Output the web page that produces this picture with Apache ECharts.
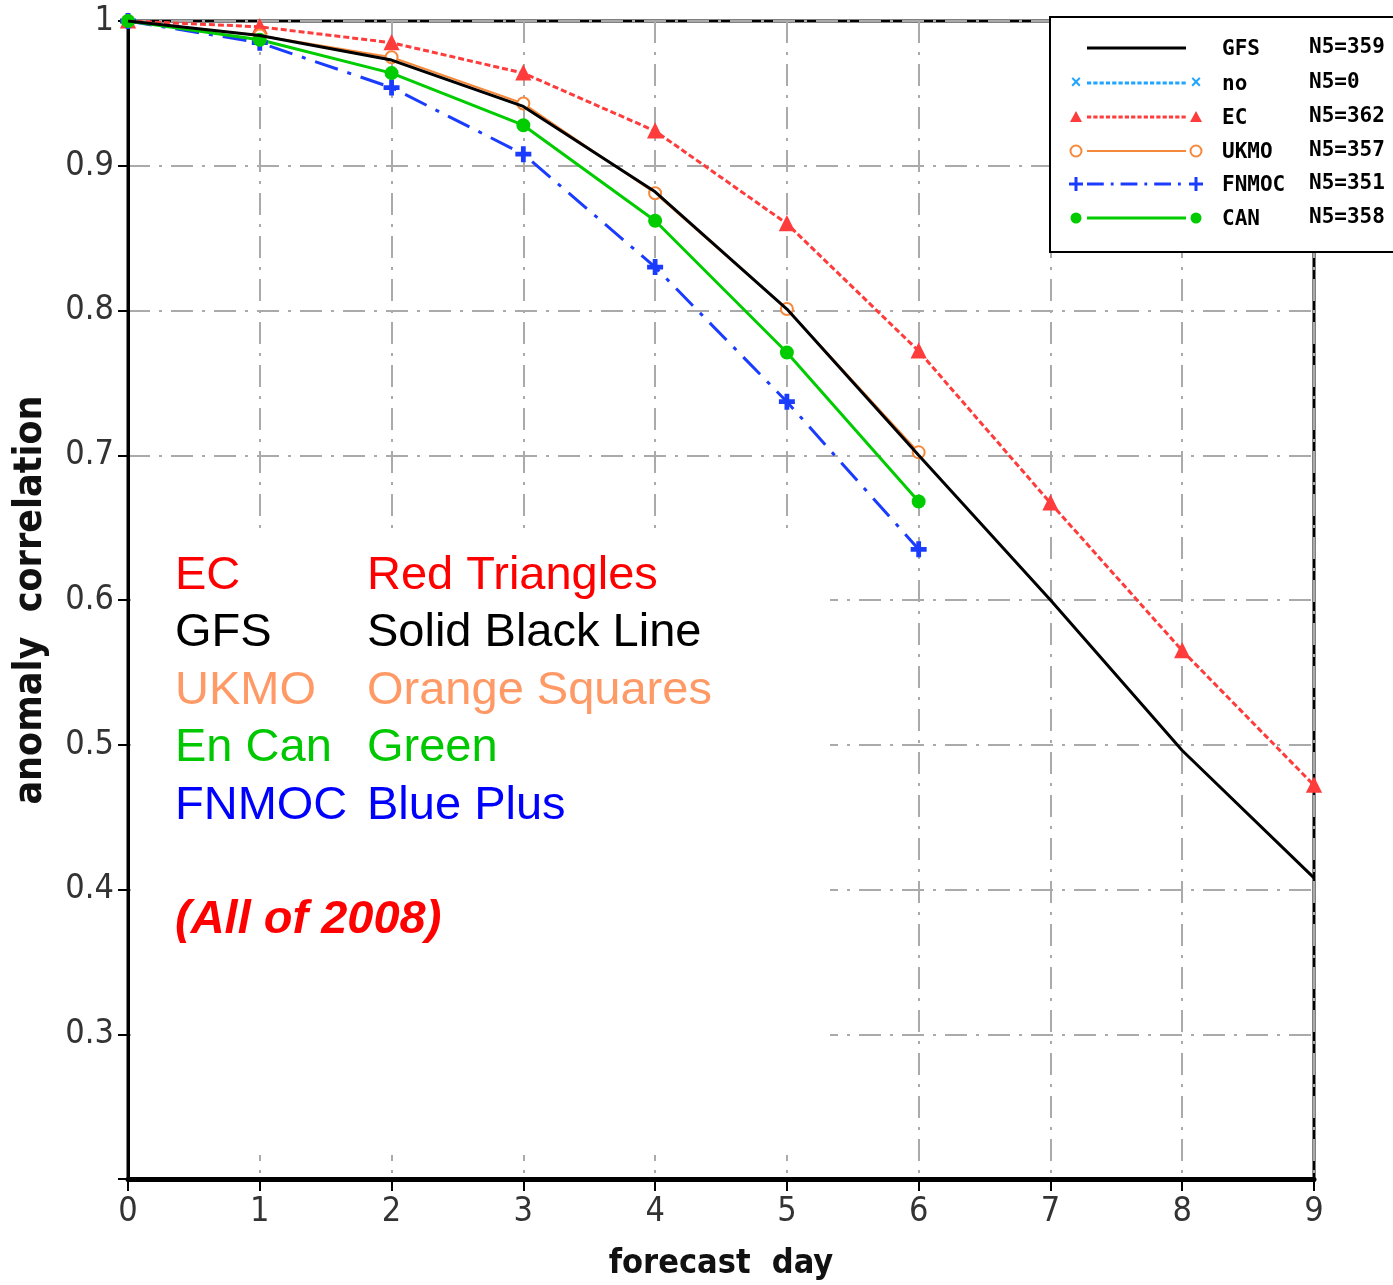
<!DOCTYPE html>
<html>
<head>
<meta charset="utf-8">
<script src="https://cdn.jsdelivr.net/npm/echarts@6/dist/echarts.min.js"></script>
<style>html,body{margin:0;padding:0;background:#fff}#c{width:1393px;height:1285px}</style>
</head>
<body>
<div id="c"></div>
<script>
// ---- data ----
var days = [0, 1, 2, 3, 4, 5, 6, 7, 8, 9];
var gfs   = [1.0, 0.990, 0.973, 0.941, 0.882, 0.801, 0.700, 0.600, 0.496, 0.408];
var noData = [];
var ec    = [1.0, 0.996, 0.985, 0.964, 0.924, 0.860, 0.772, 0.667, 0.565, 0.472];
var ukmo  = [1.0, 0.990, 0.975, 0.943, 0.881, 0.801, 0.702];
var fnmoc = [1.0, 0.985, 0.954, 0.908, 0.830, 0.737, 0.635];
var can   = [1.0, 0.987, 0.964, 0.928, 0.862, 0.771, 0.668];
var yTicks = [0.3, 0.4, 0.5, 0.6, 0.7, 0.8, 0.9, 1];
var legendNames = ['GFS', 'no', 'EC', 'UKMO', 'FNMOC', 'CAN'];
var legendCounts = ['N5=359', 'N5=0', 'N5=362', 'N5=357', 'N5=351', 'N5=358'];
var noteLeft = ['EC', 'GFS', 'UKMO', 'En Can', 'FNMOC'];
var noteRight = ['Red Triangles', 'Solid Black Line', 'Orange Squares', 'Green', 'Blue Plus'];
var noteColors = ['#ff0000', '#000000', '#ff9966', '#00c800', '#0000ff'];
var yearNote = '(All of 2008)';

function pairs(arr) { return arr.map(function (v, i) { return [days[i], v]; }); }

var plusPath = 'path://M4,0 L6,0 L6,4 L10,4 L10,6 L6,6 L6,10 L4,10 L4,6 L0,6 L0,4 L4,4 Z';
var xPath = 'path://M0,1 L1,0 L5,4 L9,0 L10,1 L6,5 L10,9 L9,10 L5,6 L1,10 L0,9 L4,5 Z';

var styles = {
  GFS:   {color: '#000000', type: 'solid', width: 3, symbol: 'none', size: 0},
  no:    {color: '#1fa5ff', type: [6, 3], width: 3, symbol: xPath, size: 10},
  EC:    {color: '#ff3c3c', type: [6, 3], width: 3, symbol: 'triangle', size: 13},
  UKMO:  {color: '#f5883a', type: 'solid', width: 2, symbol: 'emptyCircle', size: 12},
  FNMOC: {color: '#1a3cff', type: [24, 10, 4, 10], width: 3, symbol: plusPath, size: 14},
  CAN:   {color: '#00cc00', type: 'solid', width: 3, symbol: 'circle', size: 12}
};
var seriesData = {GFS: gfs, no: noData, EC: ec, UKMO: ukmo, FNMOC: fnmoc, CAN: can};

var FONT_AX = '"Liberation Sans Narrow", "DejaVu Sans Condensed", "Liberation Sans", sans-serif';
var FONT_LG = '"DejaVu Sans Mono", monospace';
var FONT_TX = '"Liberation Sans", Arial, sans-serif';
var gridDash = [22, 9, 3, 9];

var series = legendNames.map(function (n) {
  var s = styles[n];
  return {
    name: n, type: 'line', data: pairs(seriesData[n]),
    symbol: s.symbol, symbolSize: s.size, showSymbol: s.symbol !== 'none',
    lineStyle: {color: s.color, width: s.width, type: s.type},
    itemStyle: {color: s.color, borderColor: s.color, borderWidth: 2},
    z: n === 'GFS' ? 4 : 3, animation: false, silent: true
  };
});

// ---- legend box (graphic) ----
var lg = [];
lg.push({type: 'rect', shape: {x: 1050, y: 17, width: 400, height: 235},
  style: {fill: '#fff', stroke: '#000', lineWidth: 2}, z: 10});
var rowY = [48, 83, 117, 151, 184, 218];
legendNames.forEach(function (n, i) {
  var s = styles[n], y = rowY[i];
  lg.push({type: 'line', shape: {x1: 1087, y1: y, x2: 1186, y2: y},
    style: {stroke: s.color, lineWidth: s.width, lineDash: Array.isArray(s.type) ? s.type.map(function (d) { return d * 0.7; }) : null}, z: 11});
  if (s.symbol !== 'none') {
    [1076, 1196].forEach(function (cx) {
      var sym;
      if (n === 'EC') sym = {type: 'polygon', shape: {points: [[cx, y - 6], [cx - 6, y + 5], [cx + 6, y + 5]]}, style: {fill: s.color}};
      else if (n === 'UKMO') sym = {type: 'circle', shape: {cx: cx, cy: y, r: 5.5}, style: {fill: '#fff', stroke: s.color, lineWidth: 2}};
      else if (n === 'CAN') sym = {type: 'circle', shape: {cx: cx, cy: y, r: 5.5}, style: {fill: s.color}};
      else if (n === 'FNMOC') sym = {type: 'polygon', shape: {points: [[cx - 1.5, y - 7], [cx + 1.5, y - 7], [cx + 1.5, y - 1.5], [cx + 7, y - 1.5], [cx + 7, y + 1.5], [cx + 1.5, y + 1.5], [cx + 1.5, y + 7], [cx - 1.5, y + 7], [cx - 1.5, y + 1.5], [cx - 7, y + 1.5], [cx - 7, y - 1.5], [cx - 1.5, y - 1.5]]}, style: {fill: s.color}};
      else sym = {type: 'text', style: {text: '×', x: cx, y: y, fill: s.color, font: 'bold 18px ' + FONT_TX, align: 'center', verticalAlign: 'middle'}};
      sym.z = 12;
      lg.push(sym);
    });
  }
  lg.push({type: 'text', style: {text: n, x: 1222, y: y + 2, fill: '#000', font: 'bold 21px ' + FONT_LG, verticalAlign: 'middle'}, z: 12});
  lg.push({type: 'text', style: {text: legendCounts[i], x: 1309, y: y, fill: '#000', font: 'bold 21px ' + FONT_LG, verticalAlign: 'middle'}, z: 12});
});

// ---- note block ----
var note = [];
note.push({type: 'rect', shape: {x: 131, y: 535, width: 699, height: 620}, style: {fill: '#fff'}, z: 1});
var noteY = [576, 633, 691, 748, 806];
noteLeft.forEach(function (t, i) {
  note.push({type: 'text', style: {text: t, x: 175, y: noteY[i], fill: noteColors[i], font: '47px ' + FONT_TX, verticalAlign: 'middle'}, z: 5});
  note.push({type: 'text', style: {text: noteRight[i], x: 367, y: noteY[i], fill: noteColors[i], font: '47px ' + FONT_TX, verticalAlign: 'middle'}, z: 5});
});
note.push({type: 'text', style: {text: yearNote, x: 175, y: 920, fill: '#ff0000', font: 'italic bold 47px ' + FONT_TX, verticalAlign: 'middle'}, z: 5});

var chart = echarts.init(document.getElementById('c'), null, {renderer: 'canvas'});
chart.setOption({
  backgroundColor: '#fff',
  animation: false,
  grid: {left: 128, right: 79, top: 21, bottom: 106, outerBoundsMode: 'none', containLabel: false,
    show: true, borderColor: '#000', borderWidth: 3, backgroundColor: 'transparent'},
  xAxis: {
    type: 'value', min: 0, max: 9, interval: 1,
    name: 'forecast  day', nameLocation: 'middle', nameGap: 68,
    nameTextStyle: {fontFamily: FONT_AX, fontSize: 34, fontWeight: 'bold', color: '#111'},
    axisLine: {show: true, onZero: false, lineStyle: {color: '#000', width: 5}},
    axisTick: {show: true, length: 12, lineStyle: {color: '#000', width: 2}},
    axisLabel: {fontFamily: FONT_AX, fontSize: 34, color: '#333', margin: 16},
    splitLine: {show: true, lineStyle: {color: '#aaaaaa', width: 2, type: gridDash}}
  },
  yAxis: {
    type: 'value', min: 0.2, max: 1, interval: 0.1,
    name: 'anomaly  correlation', nameLocation: 'middle', nameGap: 78,
    nameTextStyle: {fontFamily: FONT_AX, fontSize: 39, fontWeight: 'bold', color: '#111'},
    axisLine: {show: true, lineStyle: {color: '#000', width: 3}},
    axisTick: {show: true, length: 10, lineStyle: {color: '#000', width: 2}},
    axisLabel: {fontFamily: FONT_AX, fontSize: 34, color: '#333', margin: 14,
      formatter: function (v) {
        var r = Math.round(v * 10) / 10;
        for (var i = 0; i < yTicks.length; i++) if (Math.abs(yTicks[i] - r) < 1e-6) return r === 1 ? '1' : r.toFixed(1);
        return '';
      }},
    splitLine: {show: true, lineStyle: {color: '#aaaaaa', width: 2, type: gridDash}}
  },
  graphic: note.concat(lg),
  series: series
});
</script>
</body>
</html>
